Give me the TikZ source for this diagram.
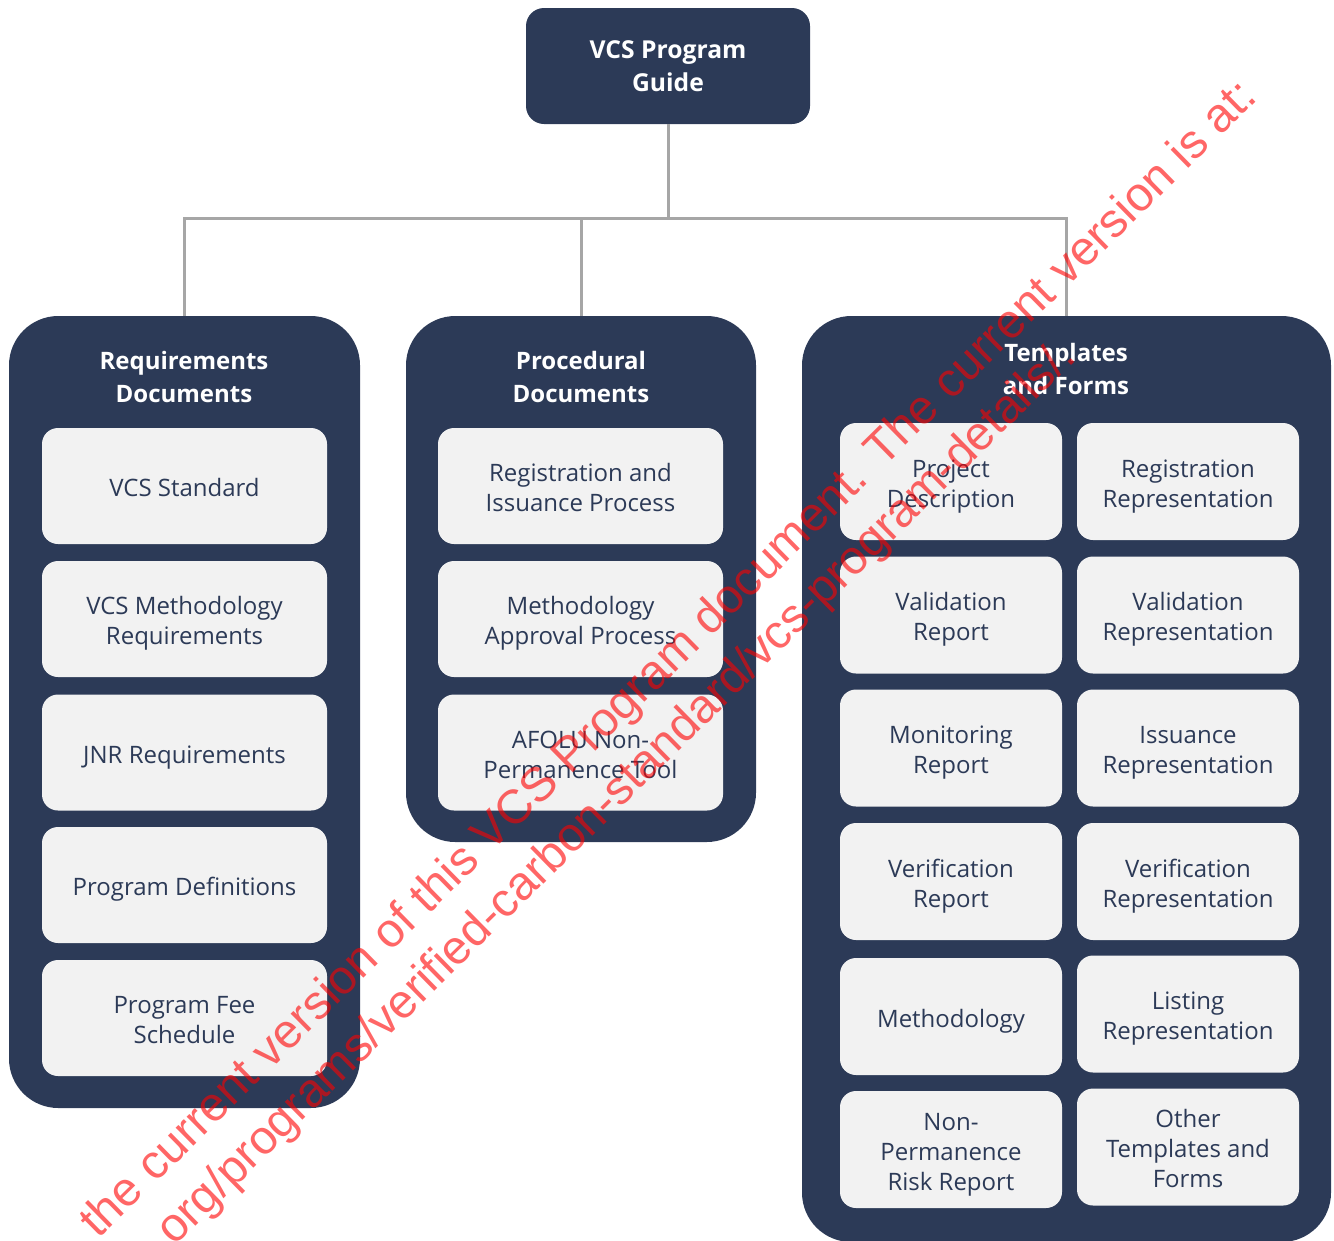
\documentclass[tikz,border=0pt]{standalone}
\usepackage{fontspec}
\setmainfont{Open Sans}
\newfontfamily\wmfont{Liberation Sans}
\newlength\pxu \setlength\pxu{0.75pt}
\newcommand\tstr{\rule{0pt}{22pt}}
\newcommand\bstr{\rule[-6pt]{0pt}{6pt}}
\definecolor{navy}{HTML}{2C3A57}
\definecolor{boxgray}{HTML}{F2F2F2}
\definecolor{conngray}{HTML}{A6A6A6}
\begin{document}
\begin{tikzpicture}[x=0.75pt,y=-0.75pt,
  panel/.style={fill=navy, rounded corners=37pt, inner sep=0pt},
  topbox/.style={fill=navy, rounded corners=13.5pt, inner sep=0pt, text=white, align=center,
    font=\fontsize{18.5}{24.75}\selectfont\bfseries},
  ptitle/.style={text=white, align=center, inner sep=0pt, font=\fontsize{18}{24.75}\selectfont\bfseries},
  item/.style={fill=boxgray, rounded corners=12pt, inner sep=0pt, text=navy, align=center,
    font=\fontsize{18}{22.5}\selectfont},
  litem/.style={item, minimum width=285\pxu, minimum height=116\pxu},
  ritem/.style={item, minimum width=222\pxu, minimum height=117\pxu},
  conn/.style={draw=conngray, line width=2.25pt},
  wm/.style={text=red, text opacity=0.6, inner sep=0pt, rotate=44.5}]
\useasboundingbox (0,0) rectangle (1334,1240);
\clip (0,0) rectangle (1334,1240);

% top
\node[topbox, minimum width=284\pxu, minimum height=116\pxu] (top) at (668,66) {VCS Program\\Guide};

% panels
\node[panel, minimum width=351\pxu, minimum height=792\pxu] (req) at (184.5,712) {};
\node[panel, minimum width=350\pxu, minimum height=526\pxu] (proc) at (581,579) {};
\node[panel, minimum width=529\pxu, minimum height=926\pxu] (tpl) at (1066.5,779) {};

% connectors
\coordinate (bus) at (668,218);
\draw[conn] (top.south) -- (bus);
\draw[conn] (req.north) |- (bus) -| (tpl.north);
\draw[conn] (proc.north) -- (proc.north |- bus);

% titles
\node[ptitle] (reqt) at (184,377) {Requirements\\Documents};
\node[ptitle] (proct) at (581,377) {Procedural\\Documents};
\node[ptitle] (tplt) at (1066,369) {Templates\\and Forms};

% requirements items
\node[litem] (r1) at (184.5,486) {\tstr VCS Standard\bstr};
\node[litem] (r2) at (184.5,619) {\tstr VCS Methodology\\Requirements\bstr};
\node[litem] (r3) at (184.5,752.5) {\tstr JNR Requirements\bstr};
\node[litem] (r4) at (184.5,885) {\tstr Program Definitions\bstr};
\node[litem] (r5) at (184.5,1018) {\tstr Program Fee\\Schedule\bstr};

% procedural items
\node[litem] (p1) at (580.5,486) {\tstr Registration and\\Issuance Process\bstr};
\node[litem] (p2) at (580.5,619) {\tstr Methodology\\Approval Process\bstr};
\node[litem] (p3) at (580.5,752.5) {\tstr AFOLU Non-\\Permanence Tool\bstr};

% templates items
\node[ritem] (t1) at (951,481.5) {\tstr Project\\Description\bstr};
\node[ritem] (t2) at (1188,481.5) {\tstr Registration\\Representation\bstr};
\node[ritem] (t3) at (951,615) {\tstr Validation\\Report\bstr};
\node[ritem] (t4) at (1188,615) {\tstr Validation\\Representation\bstr};
\node[ritem] (t5) at (951,748) {\tstr Monitoring\\Report\bstr};
\node[ritem] (t6) at (1188,748) {\tstr Issuance\\Representation\bstr};
\node[ritem] (t7) at (951,881.5) {\tstr Verification\\Report\bstr};
\node[ritem] (t8) at (1188,881.5) {\tstr Verification\\Representation\bstr};
\node[ritem] (t9) at (951,1016.5) {\tstr Methodology\bstr};
\node[ritem] (t10) at (1188,1014) {\tstr Listing\\Representation\bstr};
\node[ritem] (t11) at (951,1149.5) {\tstr Non-\\Permanence\\Risk Report\bstr};
\node[ritem] (t12) at (1188,1147) {\tstr Other\\Templates and\\Forms\bstr};

% watermark
\node[wm, anchor=base east, font=\wmfont\fontsize{35.9}{40}\selectfont] (wm1) at (1259,99)
  {the current version of this VCS Program document. The current version is at:};
\node[wm, anchor=base east, font=\wmfont\fontsize{35.6}{40}\selectfont] (wm2) at (1078,359)
  {org/programs/verified-carbon-standard/vcs-program-details/.};
\end{tikzpicture}
\end{document}
